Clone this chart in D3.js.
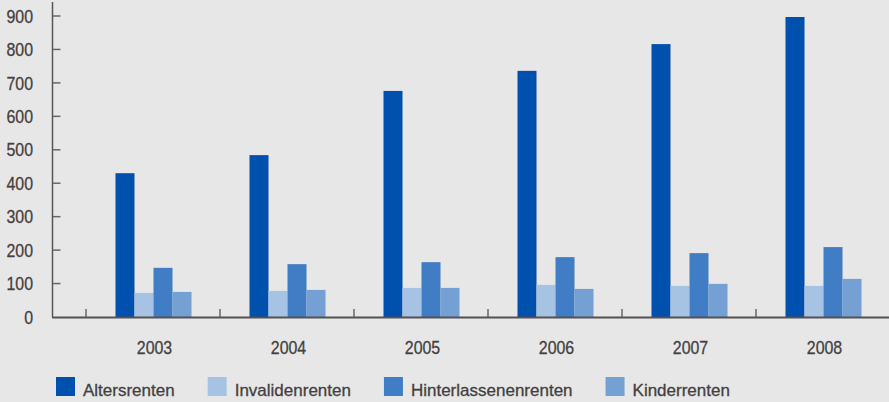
<!DOCTYPE html>
<html>
<head>
<meta charset="utf-8">
<script src="https://cdn.jsdelivr.net/npm/d3@7"></script>
<style>
  html, body { margin: 0; padding: 0; background: #e7e7e7; }
  svg { display: block; }
  .tick-label { font-family: "Liberation Sans", Arial, sans-serif; font-size: 18.5px; fill: #443f3f; stroke: #443f3f; stroke-width: 0.3px; }
  .legend-label { font-family: "Liberation Sans", Arial, sans-serif; font-size: 17px; fill: #443f3f; stroke: #443f3f; stroke-width: 0.3px; }
</style>
</head>
<body>
<div id="chart"></div>
<script>
/* chart data */
var years = ['2003', '2004', '2005', '2006', '2007', '2008'];
var seriesNames = ['Altersrenten', 'Invalidenrenten', 'Hinterlassenenrenten', 'Kinderrenten'];
var altersrenten = [430, 484, 676, 736, 816, 897];
var invalidenrenten = [72, 78, 87, 96, 93, 93];
var hinterlassenenrenten = [147, 158, 164, 179, 191, 209];
var kinderrenten = [75, 81, 87, 84, 99, 114];
var yTicks = [0, 100, 200, 300, 400, 500, 600, 700, 800, 900];

var seriesValues = [altersrenten, invalidenrenten, hinterlassenenrenten, kinderrenten];
var colors = ['#0050ae', '#a6c3e4', '#407dc4', '#75a0d4'];

var width = 889, height = 402;

var svg = d3.select('#chart').append('svg')
	.attr('width', width)
	.attr('height', height);

svg.append('rect')
	.attr('width', width)
	.attr('height', height)
	.attr('fill', '#e7e7e7');

var y = d3.scaleLinear().domain([0, 900]).range([317, 16]);

var x = d3.scaleBand().domain(years).range([86, 890]);

var xSeries = d3.scaleBand()
	.domain(seriesNames)
	.range([29.5, x.bandwidth() - 28.5]);

// squeeze the tick labels a bit, the original font is condensed
function condense(sel) {
	sel.each(function() {
		var len = this.getComputedTextLength();
		d3.select(this)
			.attr('textLength', len * 0.86)
			.attr('lengthAdjust', 'spacingAndGlyphs');
	});
}

// bars
var groups = svg.selectAll('g.year')
	.data(years)
	.enter().append('g')
	.attr('class', 'year')
	.attr('transform', function(d) { return 'translate(' + x(d) + ',0)'; });

groups.selectAll('rect')
	.data(function(d, i) {
		return seriesNames.map(function(s, j) { return { name: s, value: seriesValues[j][i], color: colors[j] }; });
	})
	.enter().append('rect')
	.attr('x', function(d) { return xSeries(d.name); })
	.attr('width', xSeries.bandwidth())
	.attr('y', function(d) { return y(d.value); })
	.attr('height', function(d) { return y(0) - y(d.value); })
	.attr('fill', function(d) { return d.color; });

// y axis
svg.append('line')
	.attr('x1', 52.5).attr('x2', 52.5)
	.attr('y1', 2).attr('y2', y(0))
	.attr('stroke', '#5a5656')
	.attr('stroke-width', 1.5);

svg.selectAll('line.ytick')
	.data(yTicks.slice(1))
	.enter().append('line')
	.attr('class', 'ytick')
	.attr('x1', 53).attr('x2', 60.5)
	.attr('y1', function(d) { return y(d); })
	.attr('y2', function(d) { return y(d); })
	.attr('stroke', '#6a6666')
	.attr('stroke-width', 1.5);

svg.selectAll('text.ylabel')
	.data(yTicks)
	.enter().append('text')
	.attr('class', 'tick-label ylabel')
	.attr('x', 33)
	.attr('y', function(d) { return y(d); })
	.attr('dy', '0.36em')
	.attr('text-anchor', 'end')
	.text(function(d) { return d; })
	.call(condense);

// x axis
svg.append('line')
	.attr('x1', 52).attr('x2', width)
	.attr('y1', y(0) + 0.5).attr('y2', y(0) + 0.5)
	.attr('stroke', '#555151')
	.attr('stroke-width', 1.8);

svg.selectAll('line.xtick')
	.data(years)
	.enter().append('line')
	.attr('class', 'xtick')
	.attr('x1', function(d) { return x(d); })
	.attr('x2', function(d) { return x(d); })
	.attr('y1', 309).attr('y2', y(0))
	.attr('stroke', '#6a6666')
	.attr('stroke-width', 1.5);

svg.selectAll('text.xlabel')
	.data(years)
	.enter().append('text')
	.attr('class', 'tick-label xlabel')
	.attr('x', function(d) { return x(d) + x.bandwidth() / 2 + 1.5; })
	.attr('y', 354)
	.attr('text-anchor', 'middle')
	.text(function(d) { return d; })
	.call(condense);

// legend
var legendX = 56;
seriesNames.forEach(function(name, i) {
	var item = svg.append('g').attr('transform', 'translate(' + legendX + ',377)');
	item.append('rect')
		.attr('width', 19).attr('height', 19)
		.attr('fill', colors[i]);
	var label = item.append('text')
		.attr('class', 'legend-label')
		.attr('x', 27)
		.attr('y', 18.5)
		.text(name);
	legendX += 27 + label.node().getComputedTextLength() + 33;
});
</script>
</body>
</html>
